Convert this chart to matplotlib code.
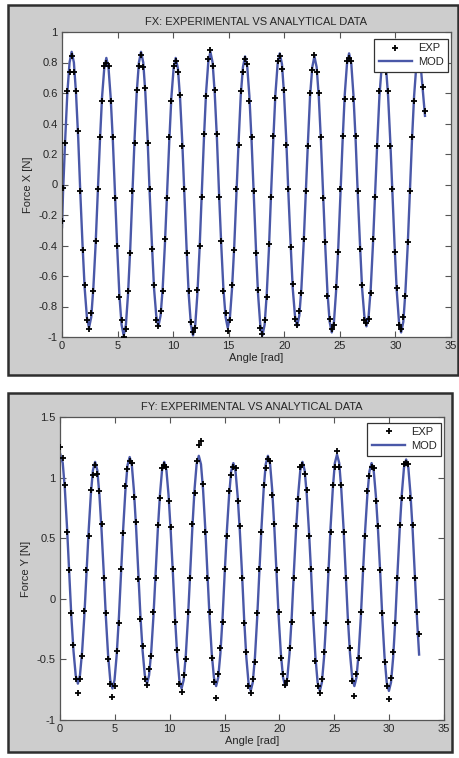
import matplotlib
matplotlib.use("Agg")
import matplotlib.pyplot as plt
from matplotlib.patches import Rectangle

plt.rcParams['font.family'] = ['Liberation Sans', 'DejaVu Sans']

# ---- FX data (angle in rad, force in N) ----
fx_angle = [
    0.00, 0.09, 0.29, 0.48, 0.68,
    0.87, 1.07, 1.26, 1.46, 1.65, 1.85, 2.04, 2.24, 2.43, 2.63, 2.82, 3.02, 3.21, 3.41, 3.60, 3.80,
    3.99, 4.19, 4.38, 4.58, 4.77, 4.97, 5.16, 5.36, 5.55, 5.75, 5.94, 6.14, 6.33, 6.53, 6.72, 6.92,
    7.11, 7.31, 7.50, 7.70, 7.89, 8.09, 8.28, 8.48, 8.67, 8.87, 9.06, 9.26, 9.45, 9.65, 9.84, 10.04,
    10.23, 10.43, 10.62, 10.82, 11.01, 11.21, 11.40, 11.60, 11.79, 11.99, 12.18, 12.38, 12.57, 12.77, 12.96, 13.16,
    13.35, 13.55, 13.74, 13.94, 14.13, 14.33, 14.52, 14.72, 14.91, 15.11, 15.30, 15.50, 15.69, 15.89, 16.08, 16.28,
    16.47, 16.67, 16.86, 17.06, 17.25, 17.45, 17.64, 17.84, 18.03, 18.23, 18.42, 18.62, 18.81, 19.01, 19.20, 19.40,
    19.59, 19.79, 19.98, 20.18, 20.37, 20.57, 20.76, 20.96, 21.15, 21.35, 21.54, 21.74, 21.93, 22.13, 22.32, 22.52,
    22.71, 22.91, 23.10, 23.30, 23.49, 23.69, 23.88, 24.08, 24.27, 24.47, 24.66, 24.86, 25.05, 25.25, 25.44, 25.64,
    25.83, 26.03, 26.22, 26.42, 26.61, 26.81, 27.00, 27.20, 27.39, 27.59, 27.78, 27.98, 28.17, 28.37, 28.56, 28.76,
    28.95, 29.15, 29.34, 29.54, 29.73, 29.93, 30.12, 30.32, 30.51, 30.71, 30.90, 31.10, 31.29, 31.49, 31.68, 31.88,
    32.07, 32.27, 32.46, 32.66,
]
fx_mod = [
    -0.28, -0.06, 0.30, 0.60, 0.80,
    0.87, 0.80, 0.60, 0.30, -0.06, -0.40, -0.68, -0.87, -0.94, -0.87, -0.68, -0.40, -0.06, 0.28, 0.57, 0.76,
    0.83, 0.76, 0.57, 0.28, -0.06, -0.42, -0.72, -0.92, -0.99, -0.92, -0.72, -0.42, -0.06, 0.30, 0.60, 0.80,
    0.87, 0.80, 0.60, 0.30, -0.06, -0.39, -0.68, -0.86, -0.93, -0.86, -0.68, -0.39, -0.06, 0.28, 0.57, 0.76,
    0.83, 0.76, 0.57, 0.28, -0.06, -0.42, -0.72, -0.92, -0.99, -0.92, -0.72, -0.42, -0.06, 0.30, 0.60, 0.80,
    0.87, 0.80, 0.60, 0.30, -0.06, -0.40, -0.68, -0.87, -0.94, -0.87, -0.68, -0.40, -0.06, 0.28, 0.58, 0.77,
    0.84, 0.77, 0.58, 0.28, -0.06, -0.42, -0.72, -0.92, -0.99, -0.92, -0.72, -0.42, -0.06, 0.29, 0.59, 0.79,
    0.86, 0.79, 0.59, 0.29, -0.06, -0.39, -0.68, -0.86, -0.93, -0.86, -0.68, -0.39, -0.06, 0.28, 0.58, 0.77,
    0.84, 0.77, 0.58, 0.28, -0.06, -0.41, -0.70, -0.90, -0.97, -0.90, -0.70, -0.41, -0.06, 0.29, 0.59, 0.79,
    0.86, 0.79, 0.59, 0.29, -0.06, -0.39, -0.68, -0.86, -0.93, -0.86, -0.68, -0.39, -0.06, 0.28, 0.58, 0.77,
    0.84, 0.77, 0.58, 0.28, -0.06, -0.41, -0.70, -0.90, -0.97, -0.90, -0.70, -0.41, -0.06, 0.29, 0.58, 0.78,
    0.85, 0.78, 0.62, 0.45,
]
fx_exp = [
    -0.24, -0.02, 0.27, 0.61, 0.74,
    0.84, 0.74, 0.61, 0.35, -0.04, -0.43, -0.66, -0.89, -0.95, -0.84, -0.70, -0.37, -0.03, 0.31, 0.55, 0.78,
    0.80, 0.78, 0.55, 0.31, -0.09, -0.40, -0.74, -0.89, -1.00, -0.95, -0.70, -0.45, -0.04, 0.27, 0.62, 0.78,
    0.85, 0.77, 0.63, 0.27, -0.03, -0.42, -0.66, -0.89, -0.93, -0.83, -0.70, -0.36, -0.09, 0.31, 0.55, 0.78,
    0.81, 0.74, 0.59, 0.25, -0.03, -0.45, -0.70, -0.90, -0.97, -0.94, -0.69, -0.40, -0.08, 0.33, 0.58, 0.82,
    0.88, 0.78, 0.62, 0.33, -0.08, -0.37, -0.70, -0.84, -0.96, -0.89, -0.66, -0.43, -0.03, 0.26, 0.61, 0.74,
    0.82, 0.79, 0.55, 0.31, -0.04, -0.45, -0.69, -0.94, -0.98, -0.89, -0.74, -0.39, -0.08, 0.32, 0.57, 0.81,
    0.84, 0.76, 0.62, 0.26, -0.03, -0.41, -0.65, -0.88, -0.92, -0.83, -0.71, -0.36, -0.04, 0.25, 0.60, 0.75,
    0.85, 0.74, 0.60, 0.31, -0.09, -0.38, -0.73, -0.88, -0.95, -0.92, -0.67, -0.44, -0.03, 0.32, 0.56, 0.81,
    0.83, 0.81, 0.56, 0.32, -0.04, -0.42, -0.66, -0.89, -0.91, -0.88, -0.71, -0.36, -0.08, 0.25, 0.61, 0.75,
    0.86, 0.74, 0.61, 0.25, -0.03, -0.44, -0.68, -0.92, -0.95, -0.87, -0.73, -0.38, -0.04, 0.31, 0.55, 0.80,
    0.82, 0.76, 0.64, 0.48,
]

# ---- FY data ----
fy_angle = [
    0.00, 0.25, 0.44, 0.64, 0.84, 1.03, 1.23, 1.43, 1.63, 1.82, 2.02, 2.22, 2.41, 2.61, 2.81, 3.00,
    3.20, 3.40, 3.59, 3.79, 3.99, 4.18, 4.38, 4.58, 4.78, 4.97, 5.17, 5.37, 5.56, 5.76, 5.96, 6.15,
    6.35, 6.55, 6.74, 6.94, 7.14, 7.33, 7.53, 7.73, 7.93, 8.12, 8.32, 8.52, 8.71, 8.91, 9.11, 9.30,
    9.50, 9.70, 9.89, 10.09, 10.29, 10.48, 10.68, 10.88, 11.08, 11.27, 11.47, 11.67, 11.86, 12.06, 12.26, 12.45,
    12.65, 12.85, 13.04, 13.24, 13.44, 13.63, 13.83, 14.03, 14.23, 14.42, 14.62, 14.82, 15.01, 15.21, 15.41, 15.60,
    15.80, 16.00, 16.19, 16.39, 16.59, 16.78, 16.98, 17.18, 17.38, 17.57, 17.77, 17.97, 18.16, 18.36, 18.56, 18.75,
    18.95, 19.15, 19.34, 19.54, 19.74, 19.93, 20.13, 20.33, 20.53, 20.72, 20.92, 21.12, 21.31, 21.51, 21.71, 21.90,
    22.10, 22.30, 22.49, 22.69, 22.89, 23.08, 23.28, 23.48, 23.68, 23.87, 24.07, 24.27, 24.46, 24.66, 24.86, 25.05,
    25.25, 25.45, 25.64, 25.84, 26.04, 26.23, 26.43, 26.63, 26.83, 27.02, 27.22, 27.42, 27.61, 27.81, 28.01, 28.20,
    28.40, 28.60, 28.79, 28.99, 29.19, 29.38, 29.58, 29.78, 29.98, 30.17, 30.37, 30.57, 30.76, 30.96, 31.16, 31.35,
    31.55, 31.75, 31.94, 32.14, 32.34, 32.53, 32.73,
]
fy_mod = [
    1.20, 1.12, 0.91, 0.59, 0.21, -0.14, -0.43, -0.63, -0.70, -0.63, -0.43, -0.14, 0.21, 0.56, 0.86, 1.06,
    1.13, 1.06, 0.86, 0.56, 0.21, -0.15, -0.46, -0.67, -0.74, -0.67, -0.46, -0.15, 0.21, 0.58, 0.89, 1.10,
    1.17, 1.10, 0.89, 0.58, 0.21, -0.14, -0.43, -0.63, -0.70, -0.63, -0.43, -0.14, 0.21, 0.56, 0.86, 1.06,
    1.13, 1.06, 0.86, 0.56, 0.21, -0.15, -0.46, -0.67, -0.74, -0.67, -0.46, -0.15, 0.21, 0.58, 0.90, 1.11,
    1.18, 1.11, 0.90, 0.58, 0.21, -0.15, -0.45, -0.65, -0.72, -0.65, -0.45, -0.15, 0.21, 0.56, 0.85, 1.05,
    1.12, 1.05, 0.85, 0.56, 0.21, -0.16, -0.48, -0.69, -0.76, -0.69, -0.48, -0.16, 0.21, 0.58, 0.90, 1.11,
    1.18, 1.11, 0.90, 0.58, 0.21, -0.15, -0.45, -0.65, -0.72, -0.65, -0.45, -0.15, 0.21, 0.56, 0.86, 1.06,
    1.13, 1.06, 0.86, 0.56, 0.21, -0.16, -0.48, -0.69, -0.76, -0.69, -0.48, -0.16, 0.21, 0.59, 0.90, 1.12,
    1.19, 1.12, 0.90, 0.59, 0.21, -0.15, -0.45, -0.65, -0.72, -0.65, -0.45, -0.15, 0.21, 0.56, 0.85, 1.05,
    1.12, 1.05, 0.85, 0.56, 0.21, -0.16, -0.48, -0.69, -0.76, -0.69, -0.48, -0.16, 0.21, 0.57, 0.87, 1.08,
    1.15, 1.08, 0.87, 0.57, 0.21, -0.15, -0.46,
]
fy_exp = [
    1.25, 1.16, 0.94, 0.55, 0.24, -0.12, -0.38, -0.66, -0.78, -0.66, -0.47, -0.10, 0.24, 0.52, 0.90, 1.02,
    1.10, 1.03, 0.89, 0.62, 0.17, -0.12, -0.50, -0.70, -0.81, -0.72, -0.43, -0.20, 0.25, 0.54, 0.93, 1.07,
    1.14, 1.12, 0.84, 0.63, 0.16, -0.17, -0.39, -0.66, -0.71, -0.58, -0.47, -0.11, 0.17, 0.61, 0.83, 1.08,
    1.10, 1.09, 0.81, 0.59, 0.25, -0.19, -0.42, -0.70, -0.77, -0.63, -0.50, -0.11, 0.17, 0.62, 0.87, 1.14,
    1.27, 1.30, 0.95, 0.55, 0.17, -0.11, -0.49, -0.69, -0.82, -0.62, -0.41, -0.19, 0.25, 0.52, 0.89, 1.02,
    1.09, 1.08, 0.81, 0.60, 0.17, -0.20, -0.44, -0.72, -0.78, -0.66, -0.52, -0.12, 0.25, 0.55, 0.94, 1.08,
    1.15, 1.14, 0.86, 0.62, 0.24, -0.11, -0.49, -0.62, -0.71, -0.68, -0.41, -0.19, 0.17, 0.60, 0.82, 1.09,
    1.10, 1.03, 0.90, 0.52, 0.25, -0.12, -0.51, -0.72, -0.78, -0.66, -0.44, -0.20, 0.24, 0.55, 0.94, 1.09,
    1.22, 1.09, 0.94, 0.55, 0.17, -0.19, -0.41, -0.68, -0.80, -0.62, -0.49, -0.11, 0.25, 0.52, 0.89, 1.01,
    1.09, 1.08, 0.81, 0.60, 0.24, -0.12, -0.52, -0.72, -0.83, -0.65, -0.44, -0.20, 0.17, 0.61, 0.83, 1.11,
    1.12, 1.11, 0.83, 0.61, 0.17, -0.11, -0.29,
]

x_ticks = [0, 5, 10, 15, 20, 25, 30, 35]
fx_yticks = [-1, -0.8, -0.6, -0.4, -0.2, 0, 0.2, 0.4, 0.6, 0.8, 1]
fx_ylabels = ["-1", "-0.8", "-0.6", "-0.4", "-0.2", "0", "0.2", "0.4", "0.6", "0.8", "1"]
fy_yticks = [-1, -0.5, 0, 0.5, 1, 1.5]
fy_ylabels = ["-1", "-0.5", "0", "0.5", "1", "1.5"]

W, H = 460, 758
fig = plt.figure(figsize=(W / 100, H / 100), dpi=100)
fig.patch.set_facecolor("white")

GRAY = "#cdcdcd"
BLUE = "#4a58a8"
TXT = "#262626"


def px_rect(x0, y0, x1, y1):
    # pixel box (top-left origin) -> figure fraction
    return [x0 / W, 1 - y1 / H, (x1 - x0) / W, (y1 - y0) / H]


def panel_frame(x0, y0, x1, y1):
    l, b, w, h = px_rect(x0, y0, x1, y1)
    fig.patches.append(Rectangle((l, b), w, h, transform=fig.transFigure,
                                 facecolor=GRAY, edgecolor="#2e2e2e", linewidth=1.8, zorder=-5))


def draw_panel(ax, angle, exp, mod, ylim, yticks, ylabels, title, ylabel, leg_anchor):
    ax.plot(angle, exp, linestyle="none", marker="+", color="black",
            markersize=5, markeredgewidth=1.3, label="EXP", zorder=3)
    ax.plot(angle, mod, color=BLUE, linewidth=1.7, label="MOD", zorder=2)
    ax.set_xlim(0, 35)
    ax.set_ylim(*ylim)
    ax.set_xticks(x_ticks)
    ax.set_xticklabels([str(t) for t in x_ticks])
    ax.set_yticks(yticks)
    ax.set_yticklabels(ylabels)
    ax.tick_params(direction="in", length=4, width=0.8, top=True, right=True,
                   labelsize=8, labelcolor=TXT, colors="#555555", pad=3)
    for s in ax.spines.values():
        s.set_color("#555555")
        s.set_linewidth(0.9)
    ax.set_title(title, fontsize=8, color=TXT, pad=5)
    ax.set_xlabel("Angle [rad]", fontsize=8, color=TXT, labelpad=1)
    ax.set_ylabel(ylabel, fontsize=8, color=TXT, labelpad=4)
    leg = ax.legend(loc="upper right", bbox_to_anchor=leg_anchor, borderaxespad=0,
                    fontsize=8, handlelength=3.0, handletextpad=0.5, borderpad=0.4,
                    labelspacing=0.35, fancybox=False, framealpha=1, edgecolor="#333333",
                    markerfirst=True)
    leg.get_frame().set_linewidth(0.9)
    for t in leg.get_texts():
        t.set_color(TXT)


panel_frame(8, 5, 458, 375)
panel_frame(8, 393, 452, 752)

ax1 = fig.add_axes(px_rect(62, 32, 451, 337))
ax1.set_zorder(2)
draw_panel(ax1, fx_angle, fx_exp, fx_mod, (-1, 1), fx_yticks, fx_ylabels,
           "FX: EXPERIMENTAL VS ANALYTICAL DATA", "Force X [N]", (0.992, 0.977))

ax2 = fig.add_axes(px_rect(60, 417, 444, 720))
ax2.set_zorder(2)
draw_panel(ax2, fy_angle, fy_exp, fy_mod, (-1, 1.5), fy_yticks, fy_ylabels,
           "FY: EXPERIMENTAL VS ANALYTICAL DATA", "Force Y [N]", (0.992, 0.981))

fig.savefig("out.png", dpi=100, facecolor=fig.get_facecolor())
